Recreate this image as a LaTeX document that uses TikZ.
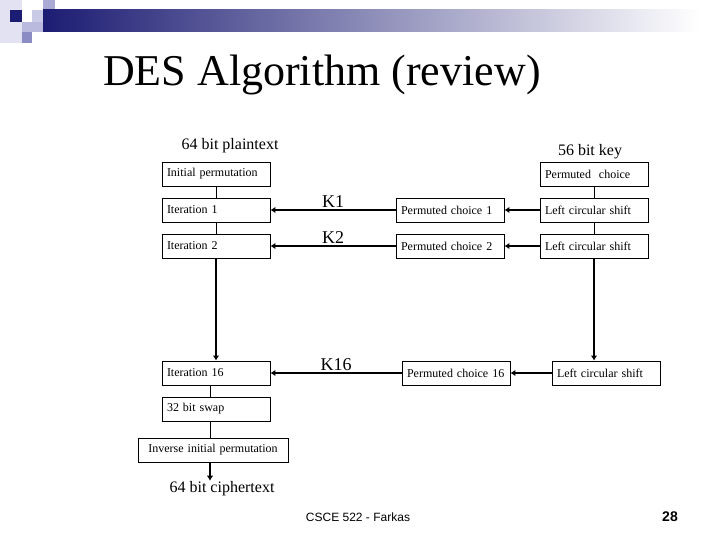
\documentclass[tikz,border=0pt]{standalone}
\usepackage{fontspec}
\usepackage{xcolor}
\usepackage{tikz}
\usetikzlibrary{arrows.meta}
\setmainfont{Liberation Serif}
\newfontfamily\footfont{Liberation Sans}

\definecolor{navy}{RGB}{28,28,115}
\definecolor{lavA}{RGB}{226,226,242}
\definecolor{lavB}{RGB}{200,202,230}
\definecolor{lavC}{RGB}{170,170,212}
\definecolor{lavD}{RGB}{186,186,222}
\definecolor{lavE}{RGB}{140,140,196}

\begin{document}
\begin{tikzpicture}[x=1pt,y=-1pt,
  stage/.style={draw,line width=0.8pt,minimum height=24pt,inner xsep=5pt,text width=98pt,align=left,font=\fontsize{12}{12}\selectfont},
  label/.style={font=\fontsize{16}{16}\selectfont,anchor=base,inner sep=0pt},
  key/.style={font=\fontsize{18}{18}\selectfont,above=1pt,inner sep=0pt},
  thin line/.style={line width=0.8pt},
  feed/.style={line width=2.2pt,-{Latex[length=5pt,width=6.5pt]}}]
\useasboundingbox (0,0) rectangle (720,540);

\fill[lavA] (0,0) rectangle (22,43);
\fill[navy] (10,10) rectangle (22,22);
\fill[lavB] (32,10) rectangle (43,22);
\fill[lavC] (43,0) rectangle (55,22);
\fill[lavD] (22,22) rectangle (43,32);
\fill[lavE] (22,32) rectangle (32,43);
\shade[left color=navy,right color=white] (43,10) rectangle (700,32);

\node[anchor=base west,inner sep=0pt,font=\fontsize{44}{44}\selectfont] (title) at (103,86) {DES Algorithm (review)};

\node[label] (plain) at (230,150) {64 bit plaintext};
\node[label] (key) at (590,156) {56 bit key};

\node[stage] (init) at (216,174) {Initial permutation};
\node[stage] (it1) at (216,210) {Iteration 1};
\node[stage] (it2) at (216,246) {Iteration 2};
\node[stage] (it16) at (216,373) {Iteration 16};
\node[stage] (swap) at (216,409) {32 bit swap};
\node[stage,text width=140pt,align=center] (inv) at (213,450) {Inverse initial permutation};
\node[label] (cipher) at (222,492) {64 bit ciphertext};

\node[stage] (pc) at (594,174) {Permuted\ \ choice};
\node[stage] (lcs1) at (594,210) {Left circular shift};
\node[stage] (lcs2) at (594,246) {Left circular shift};
\node[stage] (lcs16) at (606,373) {Left circular shift};
\node[stage] (pc1) at (450,210) {Permuted choice 1};
\node[stage] (pc2) at (450,246) {Permuted choice 2};
\node[stage] (pc16) at (456,373) {Permuted choice 16};

\draw[thin line] (init) -- (it1);
\draw[thin line] (it1) -- (it2);
\draw[thin line] ([xshift=-6pt]it16.south) -- ([xshift=-6pt]swap.north);
\draw[thin line] ([xshift=-6pt]swap.south) -- ([xshift=-6pt]swap.south |- inv.north);
\draw[thin line] (pc) -- (lcs1);
\draw[thin line] (lcs1) -- (lcs2);

\draw[feed] (it2) -- (it16);
\draw[feed] (lcs2.south) -- (lcs2.south |- lcs16.north);
\draw[feed] ([xshift=-3pt]inv.south) -- ([xshift=-3pt]inv.south |- cipher.north);

\draw[feed] (lcs1) -- (pc1);
\draw[feed] (lcs2) -- (pc2);
\draw[feed] (lcs16) -- (pc16);
\draw[feed] (pc1) -- (it1) node[midway,key] {K1};
\draw[feed] (pc2) -- (it2) node[midway,key] {K2};
\draw[feed] (pc16) -- (it16) node[midway,key] {K16};

\node[anchor=base,inner sep=0pt,font=\footfont\fontsize{12}{12}\selectfont] (foot) at (358,521) {CSCE 522 - Farkas};
\node[anchor=base east,inner sep=0pt,font=\footfont\bfseries\fontsize{14}{14}\selectfont] (page) at (678,521) {28};
\end{tikzpicture}
\end{document}
